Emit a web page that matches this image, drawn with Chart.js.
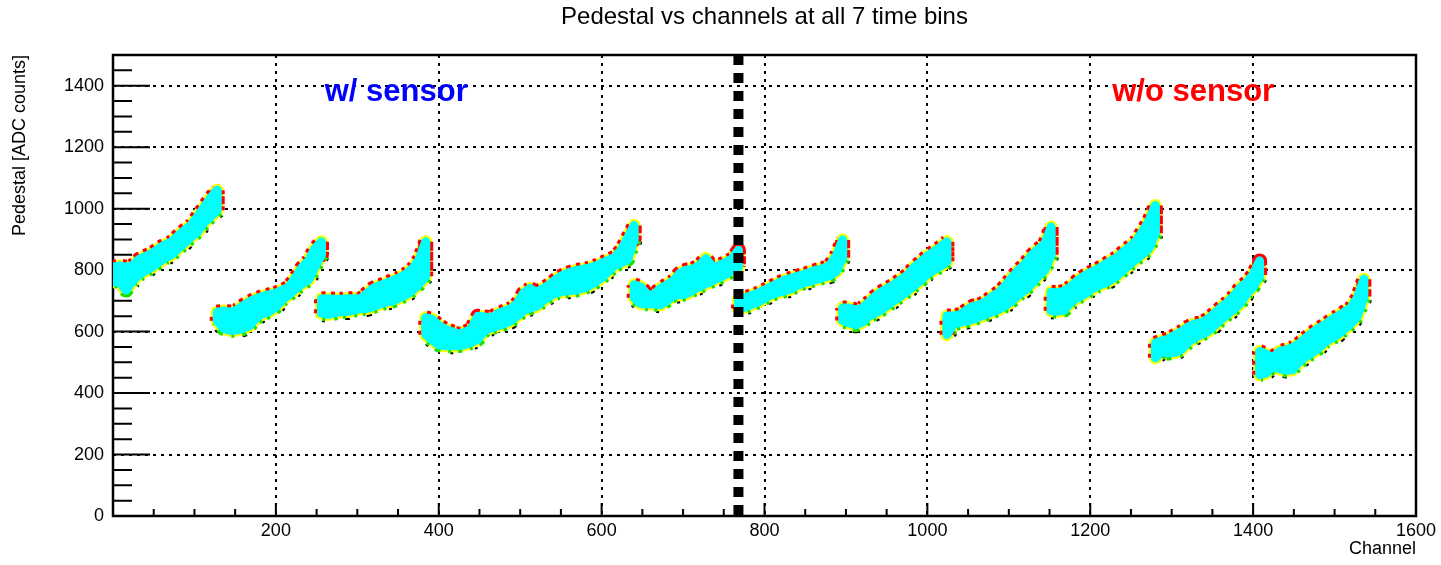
<!DOCTYPE html>
<html>
<head>
<meta charset="utf-8">
<title>Pedestal vs channels</title>
<script src="https://cdn.jsdelivr.net/npm/chart.js@4.4.1/dist/chart.umd.min.js"></script>
<style>
  html, body { margin: 0; padding: 0; background: #fff; }
  canvas { display: block; }
</style>
</head>
<body>
<canvas id="pedestalChart" width="1441" height="565"></canvas>
<script>
// First channel of each 128-channel readout chip
const chipStart = [0, 128, 256, 384, 512, 640, 768, 896, 1024, 1152, 1280, 1408];
// Channel offsets (within a chip) where the pedestal envelope is sampled
const sampleOffsets = [0, 8, 16, 24, 32, 40, 48, 56, 64, 72, 80, 88, 96, 104, 112, 120, 128];

// Upper envelope of the pedestal (all 7 time bins), ADC counts, per chip
const pedMax = [
  [810, 814, 810, 815, 835, 845, 855, 870, 883, 892, 912, 930, 946, 975, 1005, 1035, 1060],
  [663, 667, 663, 670, 685, 698, 707, 715, 720, 725, 735, 745, 775, 808, 830, 870, 892],
  [707, 707, 705, 705, 707, 707, 707, 725, 742, 750, 758, 767, 775, 788, 805, 835, 892],
  [645, 640, 620, 608, 600, 592, 598, 608, 650, 648, 645, 658, 666, 674, 690, 725, 740],
  [740, 728, 740, 753, 770, 783, 792, 798, 802, 806, 813, 822, 832, 842, 865, 905, 945],
  [752, 745, 720, 720, 740, 752, 765, 790, 800, 804, 815, 838, 810, 815, 825, 836, 865],
  [705, 710, 717, 725, 735, 746, 756, 767, 773, 780, 785, 793, 800, 805, 815, 846, 898],
  [677, 677, 670, 677, 695, 715, 730, 742, 755, 770, 785, 810, 826, 846, 860, 875, 892],
  [651, 651, 655, 670, 683, 687, 698, 715, 728, 750, 777, 800, 820, 848, 868, 885, 940],
  [728, 726, 732, 746, 765, 780, 792, 802, 815, 828, 840, 858, 875, 893, 925, 960, 1010],
  [562, 570, 576, 588, 600, 615, 625, 628, 640, 658, 677, 694, 715, 742, 760, 785, 830],
  [535, 527, 513, 535, 540, 547, 560, 578, 595, 610, 622, 638, 650, 664, 677, 710, 770]
];

// Lower envelope of the pedestal (all 7 time bins), ADC counts, per chip
const pedMin = [
  [762, 762, 735, 765, 785, 798, 810, 825, 840, 850, 870, 888, 908, 925, 955, 974, 995],
  [635, 610, 604, 605, 610, 620, 645, 658, 665, 680, 703, 720, 738, 755, 768, 810, 850],
  [660, 656, 660, 665, 665, 670, 675, 675, 682, 690, 696, 700, 710, 720, 735, 755, 780],
  [590, 573, 557, 554, 554, 554, 558, 565, 575, 602, 612, 618, 625, 634, 650, 668, 677],
  [677, 682, 700, 715, 725, 731, 733, 735, 740, 748, 760, 775, 795, 815, 823, 835, 900],
  [710, 691, 691, 690, 687, 700, 717, 720, 723, 735, 746, 755, 766, 775, 785, 798, 810],
  [675, 680, 688, 696, 708, 720, 727, 732, 738, 750, 758, 764, 770, 776, 782, 795, 840],
  [636, 628, 622, 630, 650, 660, 672, 687, 703, 717, 732, 750, 766, 788, 800, 812, 828],
  [590, 624, 630, 634, 640, 648, 656, 665, 672, 685, 700, 720, 735, 755, 780, 800, 850],
  [668, 666, 670, 695, 710, 720, 735, 747, 756, 766, 780, 798, 817, 835, 852, 870, 920],
  [515, 535, 530, 532, 542, 565, 580, 590, 600, 618, 638, 655, 672, 690, 723, 745, 780],
  [460, 465, 490, 479, 475, 475, 500, 517, 530, 545, 565, 578, 590, 608, 625, 650, 710]
];

// Channel separating the two halves of the setup
const sensorBoundary = 768;
const regionLabels = ['w/ sensor', 'w/o sensor'];
const regionLabelChannel = [260, 1227];
const regionLabelPedestal = [1350, 1350];
const regionLabelColor = ['#0000ff', '#ff0000'];

// Axis ranges and tick steps
const xRange = [0, 1600];
const yRange = [0, 1500];
const majorStep = 200;
const minorStep = 50;

const FONT = '"Liberation Sans", Arial, Helvetica, sans-serif';
Chart.defaults.font.family = FONT;
Chart.defaults.color = '#000';

// Closed outline of one chip's band: upper edge left->right, lower edge right->left
function chipOutline(s) {
  const pts = [];
  sampleOffsets.forEach((o, j) => pts.push({ x: chipStart[s] + o, y: pedMax[s][j] }));
  for (let j = sampleOffsets.length - 1; j >= 0; j--) {
    pts.push({ x: chipStart[s] + sampleOffsets[j], y: pedMin[s][j] });
  }
  pts.push({ x: pts[0].x, y: pts[0].y });
  return pts;
}

// Which side of the outline a line piece belongs to
function edgeOf(i) {
  const n = sampleOffsets.length;
  if (i < n - 1) return 'top';
  if (i === n - 1) return 'side';
  if (i < 2 * n - 1) return 'bottom';
  return 'side';
}

const CLEAR = 'rgba(0,0,0,0)';
// Rims of the band: coloured marker edges of the other time bins peeking out
const rimLayers = [
  { order: 4, width: 17, cap: 'butt',
    color: { top: CLEAR, bottom: '#000000', side: CLEAR },
    dash: { top: [], bottom: [3, 19], side: [] } },
  { order: 3, width: 13, cap: 'round',
    color: { top: '#ffff00', bottom: '#ffff00', side: '#ffff00' },
    dash: { top: [], bottom: [], side: [] } },
  { order: 2, width: 15, cap: 'butt',
    color: { top: '#ff0000', bottom: '#22dd00', side: '#ff0000' },
    dash: { top: [4, 5], bottom: [3, 7], side: [4, 6] } }
];

const datasets = [];
chipStart.forEach((_, s) => {
  const outline = chipOutline(s);
  rimLayers.forEach(layer => {
    datasets.push({
      data: outline,
      order: layer.order,
      fill: false,
      borderWidth: layer.width,
      borderJoinStyle: 'round',
      borderCapStyle: layer.cap,
      pointRadius: 0,
      segment: {
        borderColor: ctx => layer.color[edgeOf(ctx.p0DataIndex)],
        borderDash: ctx => layer.dash[edgeOf(ctx.p0DataIndex)]
      }
    });
  });
  datasets.push({
    data: outline,
    order: 1,
    fill: 'shape',
    backgroundColor: '#00ffff',
    borderColor: '#00ffff',
    borderWidth: 9,
    borderJoinStyle: 'round',
    borderCapStyle: 'round',
    pointRadius: 0
  });
});

// Thick dashed divider between the two halves
datasets.push({
  data: [{ x: sensorBoundary, y: yRange[1] }, { x: sensorBoundary, y: yRange[0] }],
  order: 0,
  fill: false,
  borderColor: '#000000',
  borderWidth: 10,
  borderDash: [10, 8],
  borderCapStyle: 'butt',
  pointRadius: 0
});

// Frame, inward ticks (major + minor) and the region labels
const frameAndLabels = {
  id: 'frameAndLabels',
  beforeDatasetsDraw(chart) {
    const { ctx, chartArea: a, scales: { x, y } } = chart;
    ctx.save();
    ctx.strokeStyle = '#000';
    ctx.lineWidth = 2;
    ctx.beginPath();
    for (let v = yRange[0]; v <= yRange[1]; v += minorStep) {
      const py = y.getPixelForValue(v);
      const len = v % majorStep === 0 ? 37 : 19;
      ctx.moveTo(a.left, py);
      ctx.lineTo(a.left + len, py);
    }
    for (let c = xRange[0]; c <= xRange[1]; c += minorStep) {
      const px = x.getPixelForValue(c);
      const len = c % majorStep === 0 ? 13 : 7;
      ctx.moveTo(px, a.bottom);
      ctx.lineTo(px, a.bottom - len);
    }
    ctx.stroke();
    ctx.lineWidth = 2.5;
    ctx.strokeRect(a.left, a.top, a.right - a.left, a.bottom - a.top);
    ctx.restore();
  },
  afterDatasetsDraw(chart) {
    const { ctx, scales: { x, y } } = chart;
    ctx.save();
    ctx.font = 'bold 31px ' + FONT;
    ctx.textAlign = 'left';
    ctx.textBaseline = 'alphabetic';
    regionLabels.forEach((t, i) => {
      ctx.fillStyle = regionLabelColor[i];
      ctx.fillText(t, x.getPixelForValue(regionLabelChannel[i]), y.getPixelForValue(regionLabelPedestal[i]));
    });
    ctx.restore();
  }
};

new Chart(document.getElementById('pedestalChart'), {
  type: 'line',
  data: { datasets },
  plugins: [frameAndLabels],
  options: {
    responsive: false,
    animation: false,
    events: [],
    devicePixelRatio: 1,
    layout: { padding: { left: 0, right: 25, top: 0, bottom: 0 } },
    plugins: {
      legend: { display: false },
      tooltip: { enabled: false },
      title: {
        display: true,
        text: 'Pedestal vs channels at all 7 time bins',
        fullSize: false,
        color: '#000',
        font: { size: 24, weight: 'normal', family: FONT },
        padding: { top: 3, bottom: 23.2 }
      }
    },
    scales: {
      x: {
        type: 'linear',
        min: xRange[0],
        max: xRange[1],
        afterFit: scale => { scale.height = 49; },
        border: { display: false, dash: [3, 5] },
        grid: { color: '#000', lineWidth: 2, drawTicks: false },
        ticks: {
          stepSize: majorStep,
          padding: 4,
          maxRotation: 0,
          autoSkip: false,
          font: { size: 18 },
          callback: v => (v === 0 ? '' : String(v))
        },
        title: {
          display: true,
          text: 'Channel',
          align: 'end',
          font: { size: 18 },
          padding: { top: 0, bottom: 5 }
        }
      },
      y: {
        type: 'linear',
        min: yRange[0],
        max: yRange[1],
        afterFit: scale => { scale.width = 113; },
        border: { display: false, dash: [3, 5] },
        grid: { color: '#000', lineWidth: 2, drawTicks: false },
        ticks: {
          stepSize: majorStep,
          includeBounds: false,
          padding: 9,
          font: { size: 18 },
          callback: v => String(v)
        },
        title: {
          display: true,
          text: 'Pedestal [ADC counts]',
          align: 'end',
          font: { size: 18 },
          padding: { top: 9, bottom: 0 }
        }
      }
    }
  }
});
</script>
</body>
</html>
